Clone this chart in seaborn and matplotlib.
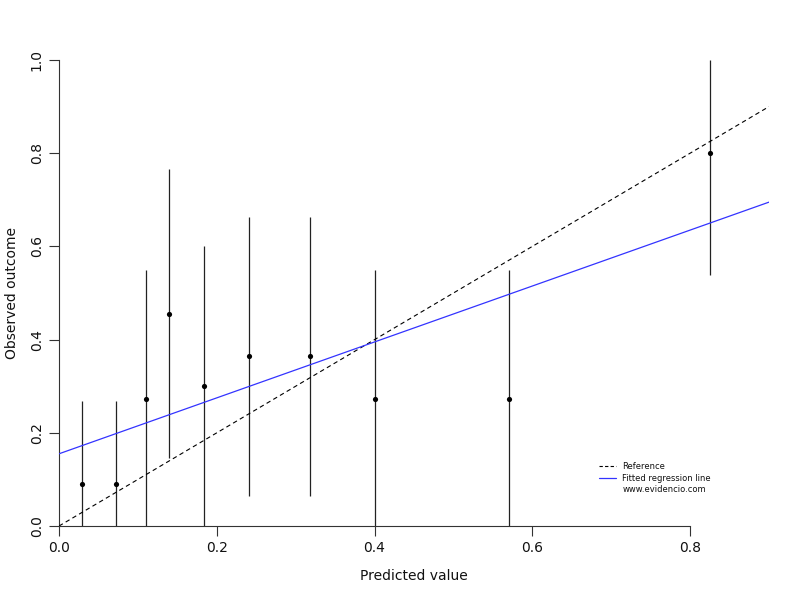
import matplotlib
matplotlib.use("Agg")
import matplotlib.pyplot as plt
import seaborn as sns
import pandas as pd
from matplotlib.lines import Line2D

# Data
pred = [0.029, 0.072, 0.110, 0.140, 0.184, 0.241, 0.318, 0.401, 0.570, 0.825]
obs = [0.091, 0.091, 0.273, 0.455, 0.300, 0.364, 0.364, 0.273, 0.273, 0.800]
lower = [0.0, 0.0, 0.0, 0.146, 0.0, 0.064, 0.064, 0.0, 0.0, 0.538]
upper = [0.268, 0.268, 0.549, 0.766, 0.601, 0.663, 0.663, 0.549, 0.549, 1.0]
ref_x = [0.0, 0.9]
ref_y = [0.0, 0.9]
fit_x = [0.0, 0.9]
fit_y = [0.155, 0.695]
x_ticks = [0.0, 0.2, 0.4, 0.6, 0.8]
y_ticks = [0.0, 0.2, 0.4, 0.6, 0.8, 1.0]
legend_labels = ["Reference", "Fitted regression line", "www.evidencio.com"]

sns.set_style("white")
plt.rcParams['font.family'] = ['DejaVu Sans']
plt.rcParams['text.color'] = '#111111'
plt.rcParams['axes.labelcolor'] = '#111111'
plt.rcParams['xtick.labelcolor'] = '#111111'
plt.rcParams['ytick.labelcolor'] = '#111111'

fig = plt.figure(figsize=(8, 6), dpi=100)
ax = fig.add_axes([0.07375, 0.1233, 0.8875, 0.7767])

df = pd.DataFrame({"pred": pred, "obs": obs, "lower": lower, "upper": upper})

ax.vlines(df["pred"], df["lower"], df["upper"], color="#222222", lw=0.9, zorder=2)
sns.lineplot(x=ref_x, y=ref_y, ax=ax, color="black", lw=0.8, linestyle=(0, (4, 3)), zorder=3)
sns.lineplot(x=fit_x, y=fit_y, ax=ax, color="#3333ff", lw=0.9, zorder=3)
sns.scatterplot(data=df, x="pred", y="obs", ax=ax, color="black", s=14, marker="o",
                edgecolor="black", linewidth=0, zorder=4)

ax.set_xlim(0, 0.9)
ax.set_ylim(0, 1.0)
ax.set_xticks(x_ticks)
ax.set_yticks(y_ticks)
ax.set_xticklabels([f"{v:.1f}" for v in x_ticks], fontsize=10)
ax.set_yticklabels([f"{v:.1f}" for v in y_ticks], fontsize=10, rotation=90, va="center")
ax.tick_params(axis="both", direction="out", length=7, width=0.8, color="#333333",
               bottom=True, left=True, pad=4)
for s in ["top", "right"]:
    ax.spines[s].set_visible(False)
ax.spines["bottom"].set_bounds(0, 0.8)
ax.spines["left"].set_bounds(0, 1.0)
for s in ["bottom", "left"]:
    ax.spines[s].set_color("#333333")
    ax.spines[s].set_linewidth(0.8)

ax.set_xlabel("Predicted value", fontsize=10, labelpad=10)
ax.set_ylabel("Observed outcome", fontsize=10, labelpad=8)

handles = [Line2D([0], [0], color="black", lw=0.8, linestyle=(0, (3, 2))),
           Line2D([0], [0], color="#3333ff", lw=0.9),
           Line2D([0], [0], color="none")]
ax.legend(handles, legend_labels, loc="lower left", bbox_to_anchor=(0.75, 0.052),
          frameon=False, fontsize=6, handlelength=2.0, handletextpad=0.8,
          labelspacing=0.3)

fig.savefig("out.png", dpi=100)
